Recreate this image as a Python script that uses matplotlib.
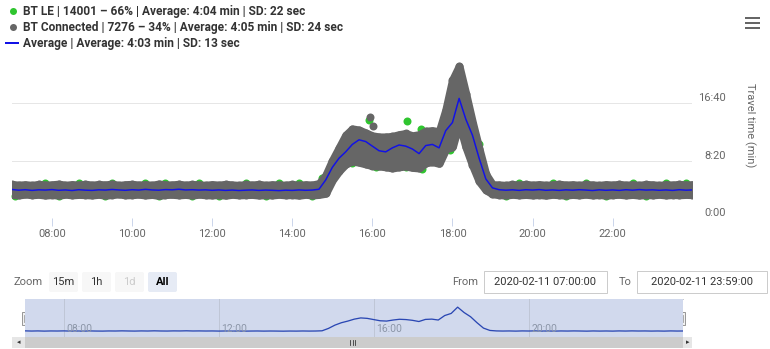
import numpy as np
import matplotlib.pyplot as plt
from matplotlib.patches import Rectangle, FancyBboxPatch
from matplotlib.lines import Line2D

# Travel time samples, one slot every 10 minutes from 07:00 (last one at 23:59)
minutes = list(range(420, 1440, 10)) + [1439]

avg_sec = [
    248, 242, 246, 240, 245, 243,
    247, 241, 244, 239, 246, 242,
    240, 245, 243, 248, 244, 241,
    246, 243, 249, 244, 242, 247,
    245, 250, 244, 246, 243, 245,
    241, 244, 240, 243, 239, 242,
    244, 240, 243, 241, 238, 242,
    240, 244, 241, 243, 250, 330,
    440, 520, 575, 640, 680, 665,
    625, 585, 575, 610, 635, 625,
    600, 560, 630, 640, 610, 760,
    830, 1040, 860, 720, 520, 340,
    262, 246, 242, 245, 240, 246,
    243, 247, 241, 244, 240, 245,
    242, 246, 243, 239, 245, 241,
    244, 240, 246, 242, 247, 243,
    245, 241, 244, 240, 246, 242,
    244,
]

# lower / upper edge of the BT Connected point cloud
low_sec = [
    205, 200, 208, 202, 206, 199,
    204, 198, 207, 201, 205, 203,
    200, 206, 198, 204, 209, 201,
    203, 207, 200, 205, 196, 204,
    206, 201, 205, 199, 207, 202,
    200, 204, 198, 206, 201, 203,
    205, 199, 203, 200, 206, 201,
    204, 198, 206, 200, 205, 215,
    330, 410, 470, 495, 485, 470,
    455, 452, 445, 435, 445, 452,
    440, 435, 480, 490, 475, 600,
    620, 830, 620, 460, 320, 245,
    210, 203, 199, 206, 201, 205,
    200, 204, 198, 206, 202, 199,
    205, 201, 207, 200, 204, 198,
    203, 206, 200, 205, 199, 204,
    201, 206, 200, 204, 202, 205,
    203,
]

high_sec = [
    292, 286, 290, 284, 293, 287,
    289, 295, 285, 291, 287, 294,
    286, 292, 288, 296, 284, 290,
    293, 287, 291, 285, 296, 289,
    288, 294, 286, 292, 289, 285,
    291, 286, 293, 288, 284, 292,
    287, 293, 285, 290, 288, 286,
    292, 286, 290, 287, 300, 370,
    500, 610, 720, 775, 765, 740,
    715, 705, 705, 710, 725, 735,
    715, 725, 755, 760, 750, 940,
    1200, 1320, 1080, 830, 600, 380,
    290, 288, 284, 292, 287, 293,
    286, 291, 285, 289, 294, 287,
    290, 285, 292, 288, 284, 291,
    287, 293, 286, 290, 285, 292,
    289, 284, 291, 287, 293, 288,
    290,
]

# BT LE points just outside the grey cloud
green_times = ["07:05", "07:50", "08:10", "08:40", "09:20", "09:30", "10:20", "10:40",
               "10:50", "11:30", "11:40", "12:10", "12:50", "13:20", "13:40", "14:10",
               "14:30", "14:45", "15:05", "15:25", "15:30", "15:55", "16:05", "16:50",
               "16:52", "17:13", "17:15", "17:57", "18:03", "18:27", "18:40", "19:20",
               "19:40", "20:30", "20:50", "21:20", "21:50", "22:30", "22:50", "23:20",
               "23:50"]
green_sec = [192, 305, 190, 303, 191, 308, 304, 188,
             306, 191, 303, 190, 305, 192, 304, 303,
             191, 345, 470, 735, 482, 852, 445, 440,
             843, 770, 428, 590, 1215, 900, 640, 191,
             303, 305, 192, 303, 189, 306, 190, 308,
             305]

# grey outliers above the evening hump
grey_out_times = ["15:57", "16:01"]
grey_out_sec = [878, 800]

legend_labels = [
    "BT LE | 14001 \u2013 66% | Average: 4:04 min | SD: 22 sec",
    "BT Connected | 7276 \u2013 34% | Average: 4:05 min | SD: 24 sec",
    "Average | Average: 4:03 min | SD: 13 sec",
]
x_ticks = [8, 10, 12, 14, 16, 18, 20, 22]
nav_ticks = [8, 12, 16, 20]
y_ticks = [0, 500, 1000]
zoom_buttons = ["15m", "1h", "1d", "All"]
range_from = "2020-02-11 07:00:00"
range_to = "2020-02-11 23:59:00"

GREEN = "#2fc52f"
GREY = "#666666"
BLUE = "#1212e6"

W, H = 770, 349
plt.rcParams['font.family'] = ['Roboto', 'DejaVu Sans']


def hm(s):
    h, m = s.split(":")
    return int(h) + int(m) / 60


def px_axes(fig, x0, y0, x1, y1):
    return fig.add_axes([x0 / W, 1 - y1 / H, (x1 - x0) / W, (y1 - y0) / H])


def mmss(v):
    return "%d:%02d" % (v // 60, v % 60)


hours = np.array(minutes) / 60.0
pt = 72 / 100.0  # points per pixel

fig = plt.figure(figsize=(W / 100, H / 100), dpi=100)

# overlay for free text / widgets in pixel coordinates
ov = fig.add_axes([0, 0, 1, 1])
ov.set_xlim(0, W)
ov.set_ylim(H, 0)
ov.axis("off")

# ---- main chart
ax = px_axes(fig, 12, 50, 692, 218)
ax.set_xlim(7, 23 + 59 / 60)
ax.set_ylim(0, 1461)
ax.patch.set_alpha(0)
for s in ax.spines.values():
    s.set_visible(False)
ax.set_yticks(y_ticks)
ax.yaxis.grid(True, color="#e6e6e6", lw=1 * pt)
ax.set_axisbelow(True)
ax.tick_params(axis="y", length=0, labelleft=False)
ax.set_xticks(x_ticks)
ax.set_xticklabels(["%02d:00" % h for h in x_ticks], color="#666666", fontsize=8)
ax.tick_params(axis="x", length=6, width=1 * pt, color="#ccd6eb", pad=2)
ax.axhline(0, color="#ccd6eb", lw=1 * pt, zorder=1)

for v in y_ticks:
    ax.text(1.05, v + 40, mmss(v), transform=ax.get_yaxis_transform(),
            ha="right", va="center", fontsize=8, color="#666666", clip_on=False)
ax.text(1.085, 0.55, "Travel time (min)", transform=ax.transAxes, rotation=270,
        ha="center", va="center", fontsize=8, color="#666666", clip_on=False)

dot = 8 * pt  # 4 px radius markers
ax.scatter([hm(t) for t in green_times], green_sec, s=dot ** 2, color=GREEN,
           lw=0, zorder=2, clip_on=False)
band = ax.fill_between(hours, low_sec, high_sec, color=GREY, lw=dot,
                       edgecolor=GREY, zorder=3)
band.set_joinstyle("round")
ax.scatter(hours, low_sec, s=dot ** 2, color=GREY, lw=0, zorder=3)
ax.scatter(hours, high_sec, s=dot ** 2, color=GREY, lw=0, zorder=3)
ax.scatter([hm(t) for t in grey_out_times], grey_out_sec, s=dot ** 2,
           color=GREY, lw=0, zorder=3)
ax.plot(hours, avg_sec, color=BLUE, lw=1.5 * pt, zorder=4)

# ---- legend
leg_y = [11, 27, 43]
ov.scatter([13], [leg_y[0]], s=(7 * pt) ** 2, color=GREEN, lw=0)
ov.scatter([13], [leg_y[1]], s=(7 * pt) ** 2, color=GREY, lw=0)
ov.add_line(Line2D([6, 18], [leg_y[2], leg_y[2]], color=BLUE, lw=2 * pt))
for y, lab in zip(leg_y, legend_labels):
    ov.text(23, y, lab, fontsize=8.6, fontweight="bold", color="#333333",
            ha="left", va="center")

# menu icon
for y in (18, 23, 28):
    ov.add_line(Line2D([745, 760], [y, y], color="#666666", lw=2 * pt,
                       solid_capstyle="butt"))

# ---- range selector row
ov.text(14, 282, "Zoom", fontsize=8, color="#666666", ha="left", va="center")
btn_x = [49, 82, 115, 148]
for bx, lab in zip(btn_x, zoom_buttons):
    face = "#e6ebf5" if lab == "All" else "#f7f7f7"
    ov.add_patch(FancyBboxPatch((bx, 272), 29, 20,
                                boxstyle="round,pad=0,rounding_size=2",
                                fc=face, ec="none"))
    col = "#cccccc" if lab == "1d" else ("#000000" if lab == "All" else "#333333")
    ov.text(bx + 14.5, 282, lab, fontsize=8, color=col, ha="center", va="center",
            fontweight="bold" if lab == "All" else "normal")

ov.text(478, 282, "From", fontsize=8, color="#666666", ha="right", va="center")
ov.add_patch(Rectangle((484, 271), 123, 22, fc="white", ec="#cccccc", lw=1 * pt))
ov.text(545.5, 282, range_from, fontsize=8, color="#333333", ha="center", va="center")
ov.text(632, 282, "To", fontsize=8, color="#666666", ha="right", va="center")
ov.add_patch(Rectangle((637, 271), 130, 22, fc="white", ec="#cccccc", lw=1 * pt))
ov.text(702, 282, range_to, fontsize=8, color="#333333", ha="center", va="center")

# ---- navigator
nav = px_axes(fig, 25, 299, 683, 337)
nav.set_xlim(7, 23 + 59 / 60)
nav.set_ylim(43, 1312)
nav.set_facecolor("#d1d9ed")
for s in nav.spines.values():
    s.set_visible(False)
nav.set_xticks([])
nav.set_yticks([])
for h in nav_ticks:
    nav.axvline(h, color="#bfc6d6", lw=1 * pt)
    nav.text(h + 0.07, 0.08, "%02d:00" % h, transform=nav.get_xaxis_transform(),
             fontsize=7.5, color="#8c96a8", ha="left", va="bottom")
nav.plot(hours, avg_sec, color="#2a47b3", lw=1.3 * pt)
ov.add_line(Line2D([25, 683], [299, 299], color="#cccccc", lw=1 * pt))

# navigator handles
for hx in (22, 679):
    ov.add_patch(Rectangle((hx, 312), 6, 13, fc="#f2f2f2", ec="#999999", lw=1 * pt,
                           zorder=5))
    for lx in (hx + 2.2, hx + 3.8):
        ov.add_line(Line2D([lx, lx], [315, 322], color="#999999", lw=0.8 * pt,
                           zorder=6))

# scrollbar
ov.add_patch(Rectangle((12, 337), 680, 11, fc="#f2f2f2", ec="none"))
ov.add_patch(Rectangle((25, 337), 658, 11, fc="#cccccc", ec="none"))
ov.add_patch(Rectangle((12, 337), 13, 11, fc="#e6e6e6", ec="none"))
ov.add_patch(Rectangle((683, 337), 9, 11, fc="#e6e6e6", ec="none"))
ov.text(18.5, 342.5, "\u25c2", fontsize=5, color="#333333", ha="center", va="center")
ov.text(687.5, 342.5, "\u25b8", fontsize=5, color="#333333", ha="center", va="center")
for gx in (350, 352.5, 355):
    ov.add_line(Line2D([gx, gx], [340, 345], color="#333333", lw=0.8 * pt))

fig.savefig("out.png", dpi=100)
